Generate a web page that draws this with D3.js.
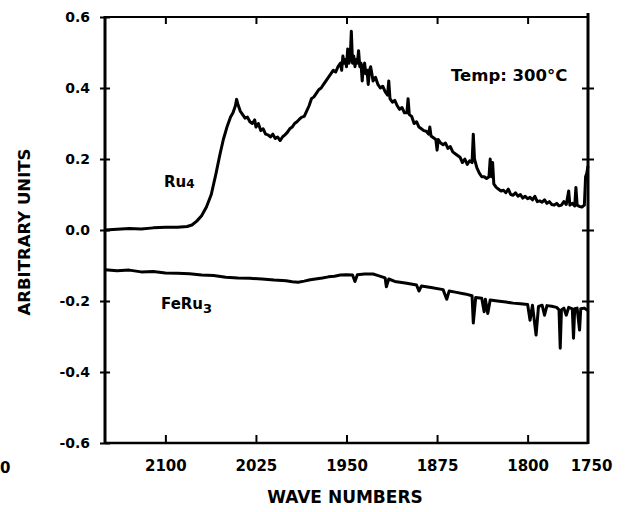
<!DOCTYPE html>
<html><head><meta charset="utf-8">
<script src="https://cdn.jsdelivr.net/npm/d3@7"></script>
<style>body{margin:0;background:#fff}svg{display:block}</style>
</head><body>
<svg id="c" width="625" height="512"></svg>
<script>
const xTicks = [2100, 2025, 1950, 1875, 1800, 1750];
const yTicks = [-0.6, -0.4, -0.2, 0.0, 0.2, 0.4, 0.6];
const xDomain = [2150, 1750];
const yDomain = [-0.6, 0.6];
const seriesNames = ["Ru4", "FeRu3"];
const ru4Wave = [2150,2140,2130,2120,2110,2100,2090,2082,2078,2074,2070,2066,2062,2058,2055,2052,2049,2046,2044,2042,2041,2040,2038,2036,2034,2032,2030,2028,2026,2025,2023,2021,2019,2017,2015,2013,2011,2009,2007,2005,2003,2001,1999,1997,1995,1993,1991,1989,1987,1985,1983,1981,1979,1977,1975,1973,1971,1969,1967,1965,1963,1961,1959,1957,1955,1954,1953,1952,1951,1950,1949,1948,1947,1946,1945,1944,1943,1942,1941,1940,1939,1938,1937,1936,1935,1934,1933,1932,1931,1930,1929,1928,1926,1924,1922,1920,1918,1916,1915,1914,1912,1910,1908,1906,1904,1902,1900,1899,1898,1896,1894,1892,1890,1888,1886,1884,1882,1881,1880,1878,1876,1875,1874,1872,1870,1868,1866,1864,1862,1860,1858,1856,1854,1852,1850,1848,1846,1845,1844,1842,1840,1838,1836,1834,1832,1831,1830,1829,1828,1826,1824,1822,1820,1818,1816,1814,1812,1810,1808,1806,1804,1802,1800,1798,1796,1794,1792,1790,1788,1786,1784,1782,1780,1778,1776,1774,1772,1770,1768,1766,1765,1763,1761,1760,1759,1757,1755,1753,1752,1751,1750];
const ru4Value = [0.000,0.002,0.004,0.003,0.006,0.008,0.008,0.010,0.014,0.025,0.040,0.065,0.100,0.160,0.210,0.255,0.290,0.318,0.330,0.350,0.368,0.355,0.335,0.325,0.315,0.318,0.305,0.300,0.310,0.290,0.300,0.280,0.285,0.270,0.268,0.262,0.270,0.258,0.262,0.252,0.262,0.268,0.275,0.285,0.290,0.300,0.305,0.312,0.318,0.320,0.335,0.350,0.370,0.375,0.385,0.395,0.400,0.410,0.420,0.430,0.440,0.450,0.445,0.460,0.470,0.450,0.490,0.470,0.480,0.460,0.510,0.470,0.480,0.560,0.470,0.490,0.460,0.480,0.470,0.505,0.460,0.470,0.420,0.460,0.470,0.440,0.450,0.410,0.450,0.460,0.440,0.420,0.430,0.410,0.400,0.405,0.390,0.380,0.420,0.370,0.360,0.365,0.350,0.340,0.345,0.330,0.330,0.370,0.325,0.320,0.300,0.305,0.290,0.285,0.280,0.278,0.270,0.290,0.265,0.260,0.255,0.225,0.255,0.245,0.240,0.245,0.230,0.235,0.220,0.215,0.210,0.205,0.190,0.200,0.185,0.195,0.190,0.270,0.200,0.175,0.160,0.150,0.150,0.145,0.150,0.200,0.150,0.190,0.130,0.120,0.115,0.110,0.112,0.105,0.115,0.100,0.098,0.105,0.095,0.100,0.090,0.095,0.088,0.092,0.085,0.095,0.080,0.082,0.078,0.085,0.075,0.080,0.072,0.070,0.075,0.068,0.070,0.080,0.072,0.110,0.070,0.075,0.068,0.120,0.070,0.066,0.065,0.070,0.150,0.160,0.180];
const feru3Wave = [2150,2140,2130,2120,2110,2100,2090,2080,2070,2060,2050,2040,2030,2020,2010,2000,1995,1990,1985,1980,1970,1965,1960,1955,1950,1945,1943,1941,1935,1928,1925,1918,1917,1915,1910,1900,1892,1890,1888,1880,1870,1867,1865,1860,1852,1846,1845,1843,1838,1836,1835,1833,1831,1825,1818,1812,1806,1800,1798,1796,1793,1791,1788,1786,1784,1780,1776,1774,1773,1772,1770,1768,1766,1763,1762,1761,1759,1757,1756,1753,1751,1750];
const feru3Value = [-0.112,-0.115,-0.113,-0.118,-0.117,-0.121,-0.122,-0.123,-0.127,-0.128,-0.133,-0.135,-0.136,-0.138,-0.141,-0.143,-0.146,-0.147,-0.144,-0.140,-0.135,-0.132,-0.130,-0.127,-0.126,-0.127,-0.145,-0.126,-0.124,-0.124,-0.127,-0.135,-0.160,-0.138,-0.145,-0.150,-0.155,-0.172,-0.158,-0.162,-0.168,-0.195,-0.172,-0.175,-0.180,-0.185,-0.262,-0.190,-0.192,-0.230,-0.195,-0.235,-0.197,-0.200,-0.203,-0.206,-0.208,-0.210,-0.254,-0.212,-0.296,-0.215,-0.212,-0.240,-0.213,-0.215,-0.218,-0.225,-0.333,-0.225,-0.220,-0.240,-0.218,-0.222,-0.305,-0.222,-0.220,-0.282,-0.222,-0.220,-0.225,-0.222];

const svg = d3.select("#c");
const L = 105, R = 588, T = 17, B = 443;
const x = d3.scaleLinear().domain(xDomain).range([L, R]);
const y = d3.scaleLinear().domain(yDomain).range([B, T]);
const font = "'DejaVu Sans', sans-serif";

// axes frame
const frame = svg.append("g").attr("stroke", "#000").attr("fill", "none");
frame.append("line").attr("x1", L).attr("x2", L).attr("y1", T - 1).attr("y2", B + 1).attr("stroke-width", 3);
frame.append("line").attr("x1", R).attr("x2", R).attr("y1", T - 4).attr("y2", B + 1).attr("stroke-width", 3);
frame.append("line").attr("x1", L).attr("x2", R).attr("y1", T).attr("y2", T).attr("stroke-width", 2);
frame.append("line").attr("x1", L).attr("x2", R).attr("y1", B).attr("y2", B).attr("stroke-width", 2.5);

// bottom axis
const xb = svg.append("g").attr("transform", `translate(0,${B})`)
  .call(d3.axisBottom(x).tickValues(xTicks).tickSize(-8).tickPadding(17).tickFormat(d3.format("d")));
xb.select(".domain").remove();
xb.selectAll("line").attr("stroke-width", 2);
xb.selectAll("text").attr("font-family", font).attr("font-weight", "bold").attr("font-size", 15).attr("fill", "#000");
xb.selectAll(".tick").filter(d => d === 1750).select("line").remove();
xb.selectAll(".tick").filter(d => d === 1750).select("text").attr("dx", 3);

// top axis
const xt = svg.append("g").attr("transform", `translate(0,${T})`)
  .call(d3.axisTop(x).tickValues(xTicks.filter(d => d !== 1750)).tickSize(-7).tickFormat(""));
xt.select(".domain").remove();
xt.selectAll("line").attr("stroke-width", 2);

// left axis
const yl = svg.append("g").attr("transform", `translate(${L},0)`)
  .call(d3.axisLeft(y).tickValues(yTicks).tickSize(5).tickPadding(10).tickFormat(d3.format(".1f")));
yl.select(".domain").remove();
yl.selectAll("line").attr("x1", 5).attr("stroke-width", 2);
yl.selectAll("text").attr("font-family", font).attr("font-weight", "bold").attr("font-size", 14).attr("fill", "#000")
  .text(d => d3.format(".1f")(d).replace("−", "-"));

// right axis
const yr = svg.append("g").attr("transform", `translate(${R},0)`)
  .call(d3.axisRight(y).tickValues(yTicks.filter(d => d > -0.6 && d < 0.6)).tickSize(6).tickFormat(""));
yr.select(".domain").remove();
yr.selectAll("line").attr("x1", -6).attr("stroke-width", 2);

// series
const line = d3.line().x(d => x(d[0])).y(d => y(d[1]));
const ru4 = ru4Wave.map((w, i) => [w, ru4Value[i]]);
const feru3 = feru3Wave.map((w, i) => [w, feru3Value[i]]);
[ru4, feru3].forEach(s => {
  svg.append("path").datum(s).attr("d", line).attr("fill", "none").attr("stroke", "#000")
    .attr("stroke-width", 3).attr("stroke-linejoin", "round");
});

// labels
const t1 = svg.append("text").attr("x", 164).attr("y", 187).attr("font-family", font).attr("font-weight", "bold").attr("font-size", 15);
t1.append("tspan").text("Ru");
t1.append("tspan").attr("font-size", 12).attr("dy", 1).text("4");
const t2 = svg.append("text").attr("x", 161).attr("y", 309).attr("font-family", font).attr("font-weight", "bold").attr("font-size", 15);
t2.append("tspan").text("FeRu");
t2.append("tspan").attr("font-size", 13).attr("dy", 4).text("3");

svg.append("text").attr("x", 451).attr("y", 81).attr("font-family", font).attr("font-weight", "bold")
  .attr("font-size", 16.5).text("Temp: 300°C");

svg.append("text").attr("x", 345).attr("y", 503).attr("text-anchor", "middle").attr("font-family", font)
  .attr("font-weight", "bold").attr("font-size", 17).text("WAVE NUMBERS");

svg.append("text").attr("transform", "translate(30,232) rotate(-90)").attr("text-anchor", "middle")
  .attr("font-family", font).attr("font-weight", "bold").attr("font-size", 16.5).text("ARBITRARY UNITS");

svg.append("text").attr("x", 0).attr("y", 473).attr("font-family", font).attr("font-weight", "bold")
  .attr("font-size", 15).text("0");
</script>
</body></html>
